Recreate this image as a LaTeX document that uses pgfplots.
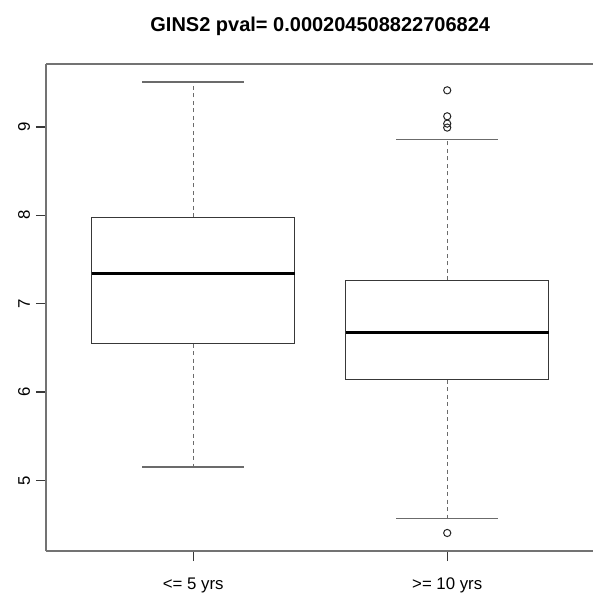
\documentclass[border=0pt]{standalone}
\usepackage{fontspec}
\setmainfont{Liberation Sans}
\usepackage{pgfplots}
\pgfplotsset{compat=1.18}

\definecolor{boxline}{gray}{0.22}
\definecolor{frameline}{gray}{0.45}
\definecolor{whiskline}{gray}{0.42}

\tikzset{
  boxedge/.style={draw=boxline, line width=1.1pt, line cap=rect, line join=miter},
  med/.style={draw=black, line width=3pt},
  whisk/.style={draw=whiskline, line width=1.2pt, dash pattern=on 4pt off 3.5pt},
  staple/.style={draw=whiskline, line width=1.2pt},
}

\begin{document}
\begin{tikzpicture}
\begin{axis}[
  name=ax,
  scale only axis,
  width=548.5pt, height=487pt,
  xmin=0.42, xmax=2.58,
  ymin=4.200, ymax=9.713,
  axis lines*=left,
  xtick={1,2},
  xticklabels={{<= 5 yrs},{>= 10 yrs}},
  ytick={5,6,7,8,9},
  tick align=outside,
  major tick length=10pt,
  tick style={draw=boxline, line width=1.1pt},
  axis line style={draw=frameline, line width=1.4pt},
  tick label style={font=\fontsize{16.8}{20}\selectfont},
  xticklabel style={anchor=base, inner sep=0pt, yshift=-28pt},
  yticklabel style={rotate=90, anchor=base, inner sep=0pt},
  yticklabel shift=6pt,
  /pgf/number format/assume math mode=true,
  title={GINS2 pval= 0.000204508822706824},
  title style={font=\fontsize{20}{24}\selectfont\bfseries,
    at={(rel axis cs:0.5,1)}, anchor=base, yshift=26pt},
  clip=false,
]
% top edge of the plot frame
\draw[frameline, line width=1.4pt] (rel axis cs:0,1) -- (rel axis cs:1,1);
% ---- group "<= 5 yrs": Q1 6.548, median 7.340, Q3 7.978, whiskers 5.151 / 9.509
\addplot[whisk] coordinates {(1,7.978) (1,9.509)};
\addplot[whisk] coordinates {(1,6.548) (1,5.151)};
\addplot[staple] coordinates {(0.8,9.509) (1.2,9.509)};
\addplot[staple] coordinates {(0.8,5.151) (1.2,5.151)};
\addplot[boxedge] coordinates {(0.6,6.548) (1.4,6.548) (1.4,7.978) (0.6,7.978) (0.6,6.548)};
\addplot[med] coordinates {(0.6,7.340) (1.4,7.340)};
% ---- group ">= 10 yrs": Q1 6.140, median 6.668, Q3 7.264, whiskers 4.567 / 8.857
\addplot[whisk] coordinates {(2,7.264) (2,8.857)};
\addplot[whisk] coordinates {(2,6.140) (2,4.567)};
\addplot[staple] coordinates {(1.8,8.857) (2.2,8.857)};
\addplot[staple] coordinates {(1.8,4.567) (2.2,4.567)};
\addplot[boxedge] coordinates {(1.6,6.140) (2.4,6.140) (2.4,7.264) (1.6,7.264) (1.6,6.140)};
\addplot[med] coordinates {(1.6,6.668) (2.4,6.668)};
% outliers
\addplot[only marks, mark=o, mark size=3.6pt,
  mark options={draw=black!85, line width=1pt}]
  coordinates {(2,9.415) (2,9.121) (2,9.038) (2,8.993) (2,4.404)};
\end{axis}
\pgfresetboundingbox
\path[use as bounding box] (ax.south west) ++(-46pt,-45pt) rectangle ++(592pt,596pt);
\end{tikzpicture}
\end{document}
